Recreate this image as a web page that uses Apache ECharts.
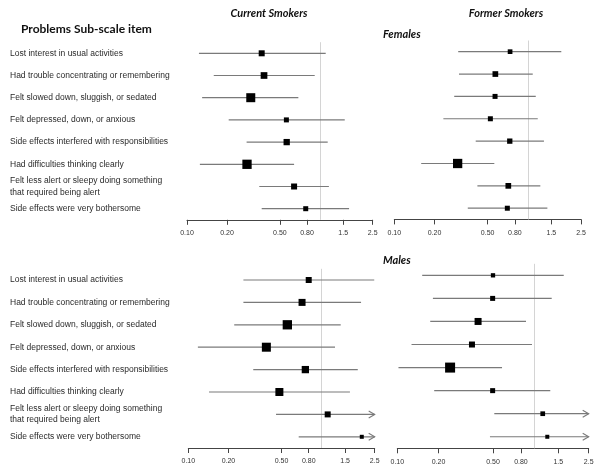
<!DOCTYPE html>
<html><head><meta charset="utf-8">
<script src="https://cdn.jsdelivr.net/npm/echarts@6/dist/echarts.min.js"></script>
<style>html,body{margin:0;padding:0;background:#fff}#c{width:604px;height:473px}</style>
</head><body><div id="c"></div>
<script>
const categories = [
  'Lost interest in usual activities',
  'Had trouble concentrating or remembering',
  'Felt slowed down, sluggish, or sedated',
  'Felt depressed, down, or anxious',
  'Side effects interfered with responsibilities',
  'Had difficulties thinking clearly',
  'Felt less alert or sleepy doing something\nthat required being alert',
  'Side effects were very bothersome'
];
const tickValues = [0.1, 0.2, 0.5, 0.8, 1.5, 2.5];
const tickLabels = ['0.10', '0.20', '0.50', '0.80', '1.5', '2.5'];
const refValue = 1;

// Females, current smokers
const femCurEst  = [0.365, 0.380, 0.302, 0.560, 0.563, 0.283, 0.640, 0.783];
const femCurLow  = [0.123, 0.159, 0.130, 0.206, 0.281, 0.125, 0.350, 0.365];
const femCurHigh = [1.107, 0.915, 0.689, 1.54, 1.146, 0.640, 1.17, 1.66];
const femCurWeight = [0.60, 0.67, 0.90, 0.50, 0.63, 0.93, 0.60, 0.50];
// Females, former smokers
const femFormEst  = [0.736, 0.571, 0.568, 0.524, 0.732, 0.298, 0.714, 0.702];
const femFormLow  = [0.301, 0.305, 0.281, 0.233, 0.407, 0.159, 0.419, 0.355];
const femFormHigh = [1.78, 1.088, 1.146, 1.186, 1.32, 0.561, 1.24, 1.40];
const femFormWeight = [0.47, 0.57, 0.50, 0.50, 0.53, 0.93, 0.57, 0.50];
// Males, current smokers (null = upper limit beyond axis, drawn as arrow)
const maleCurEst  = [0.800, 0.713, 0.553, 0.385, 0.755, 0.482, 1.11, 2.0];
const maleCurLow  = [0.259, 0.259, 0.221, 0.118, 0.307, 0.143, 0.455, 0.673];
const maleCurHigh = [2.48, 1.975, 1.39, 1.26, 1.866, 1.63, null, null];
const maleCurWeight = [0.60, 0.70, 0.93, 0.90, 0.73, 0.80, 0.60, 0.40];
// Males, former smokers
const maleFormEst  = [0.500, 0.497, 0.389, 0.351, 0.243, 0.497, 1.154, 1.246];
const maleFormLow  = [0.152, 0.182, 0.174, 0.127, 0.102, 0.186, 0.511, 0.475];
const maleFormHigh = [1.643, 1.342, 0.871, 0.963, 0.582, 1.31, null, null];
const maleFormWeight = [0.43, 0.50, 0.70, 0.60, 1.00, 0.50, 0.47, 0.40];

const boxScale = 10;
const axisMax = 2.5;
const panels = [
  {est: femCurEst, low: femCurLow, high: femCurHigh, w: femCurWeight, grid: {left: 187, top: 42.2, width: 185.7, height: 177.6}, labels: true},
  {est: femFormEst, low: femFormLow, high: femFormHigh, w: femFormWeight, grid: {left: 394.3, top: 40.5, width: 186.7, height: 178.9}, labels: false},
  {est: maleCurEst, low: maleCurLow, high: maleCurHigh, w: maleCurWeight, grid: {left: 188.3, top: 268.8, width: 186.4, height: 179.2}, labels: true},
  {est: maleFormEst, low: maleFormLow, high: maleFormHigh, w: maleFormWeight, grid: {left: 397.3, top: 263.8, width: 191.4, height: 184.5}, labels: false}
];

const lineColor = '#7a7a7a';
const grids = [], xAxes = [], yAxes = [], series = [];
panels.forEach((p, i) => {
  grids.push(Object.assign({containLabel: false}, p.grid));
  xAxes.push({
    gridIndex: i, type: 'log', logBase: 10, min: tickValues[0], max: axisMax,
    axisLine: {show: true, lineStyle: {color: '#444', width: 1}},
    axisTick: {show: true, length: 5, customValues: tickValues, lineStyle: {color: '#444', width: 1}},
    minorTick: {show: false},
    axisLabel: {
      customValues: tickValues, fontSize: 7, color: '#333', margin: 10, fontFamily: 'Liberation Sans',
      formatter: v => { const k = tickValues.findIndex(t => Math.abs(t - v) < 1e-6); return k < 0 ? '' : tickLabels[k]; }
    },
    splitLine: {show: false}
  });
  yAxes.push({
    gridIndex: i, type: 'category', data: categories, inverse: true,
    axisLine: {show: false}, axisTick: {show: false}, splitLine: {show: false},
    axisLabel: {show: p.labels, interval: 0, align: 'left', margin: p.grid.left - 10, fontSize: 8.5, lineHeight: 11.5, color: '#2a2a2a', fontFamily: 'Liberation Sans'}
  });
  series.push({
    type: 'custom', xAxisIndex: i, yAxisIndex: i, z: 2,
    data: p.low.map((l, k) => [k, l, p.high[k] == null ? axisMax : p.high[k], p.high[k] == null ? 1 : 0]),
    encode: {x: [1, 2], y: 0},
    renderItem: (params, api) => {
      const k = api.value(0);
      const a = api.coord([api.value(1), k]);
      const b = api.coord([api.value(2), k]);
      const children = [{type: 'line', shape: {x1: a[0], y1: a[1], x2: b[0], y2: b[1]}, style: {stroke: lineColor, lineWidth: 1.2}}];
      if (api.value(3)) {
        children.push({type: 'polyline', shape: {points: [[b[0] - 6, b[1] - 3.5], [b[0], b[1]], [b[0] - 6, b[1] + 3.5]]}, style: {stroke: lineColor, lineWidth: 1.1, fill: null}});
      }
      return {type: 'group', children};
    },
    markLine: {silent: true, symbol: 'none', z: 1, label: {show: false}, animation: false,
      lineStyle: {color: '#d4d4d4', width: 1, type: 'solid'}, data: [{xAxis: refValue}]}
  });
  series.push({
    type: 'scatter', xAxisIndex: i, yAxisIndex: i, z: 3, symbol: 'rect',
    data: p.est.map((e, k) => [e, k]),
    symbolSize: (v, prm) => p.w[prm.dataIndex] * boxScale,
    itemStyle: {color: '#000', opacity: 1}
  });
});

const titleFont = 'Lato';
const chart = echarts.init(document.getElementById('c'), null, {renderer: 'canvas'});
chart.setOption({
  animation: false,
  backgroundColor: '#fff',
  grid: grids, xAxis: xAxes, yAxis: yAxes, series: series,
  graphic: [
    {type: 'text', x: 269, y: 13, style: {text: 'Current Smokers', font: 'italic bold 11px ' + titleFont, fill: '#111', textAlign: 'center', textVerticalAlign: 'middle'}},
    {type: 'text', x: 506, y: 13, style: {text: 'Former Smokers', font: 'italic bold 11px ' + titleFont, fill: '#111', textAlign: 'center', textVerticalAlign: 'middle'}},
    {type: 'text', x: 21, y: 29, style: {text: 'Problems Sub-scale item', font: 'bold 12px ' + titleFont, fill: '#111', textAlign: 'left', textVerticalAlign: 'middle'}},
    {type: 'text', x: 383, y: 34, style: {text: 'Females', font: 'italic bold 11px ' + titleFont, fill: '#111', textAlign: 'left', textVerticalAlign: 'middle'}},
    {type: 'text', x: 383, y: 260, style: {text: 'Males', font: 'italic bold 11px ' + titleFont, fill: '#111', textAlign: 'left', textVerticalAlign: 'middle'}}
  ]
});
</script></body></html>
